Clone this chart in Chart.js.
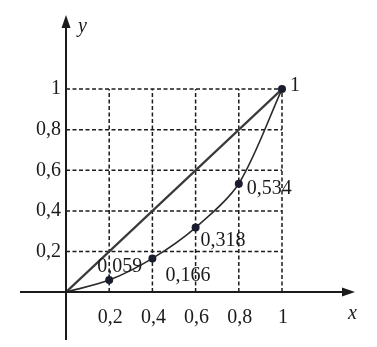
<!DOCTYPE html>
<html>
<head>
<meta charset="utf-8">
<script src="https://cdn.jsdelivr.net/npm/chart.js@4"></script>
<style>
  html, body { margin: 0; padding: 0; background: #fff; }
  canvas { display: block; }
</style>
</head>
<body>
<canvas id="lorenz" width="377" height="347"></canvas>
<script>
// Lorenz curve data
const xValues = [0, 0.2, 0.4, 0.6, 0.8, 1];
const yValues = [0, 0.059, 0.166, 0.318, 0.534, 1];
const pointLabels = ['', '0,059', '0,166', '0,318', '0,534', '1'];
const diagonalX = [0, 1];
const diagonalY = [0, 1];
const tickValues = [0.2, 0.4, 0.6, 0.8, 1];
const tickLabels = ['0,2', '0,4', '0,6', '0,8', '1'];

const FONT = '20px "Liberation Serif", "Times New Roman", serif';
const INK = '#1b1b1b';

// label offsets relative to each marked point (pixels)
const labelOffsets = [null, [-12, -13], [13, 17], [5, 13], [8, 5], [8, -3]];

const axesPlugin = {
  id: 'axesPlugin',
  beforeDatasetsDraw(chart) {
    const { ctx, scales: { x, y } } = chart;
    ctx.save();
    ctx.strokeStyle = INK;
    ctx.lineWidth = 1.5;
    ctx.setLineDash([4, 2.5]);
    tickValues.forEach(v => {
      // horizontal
      ctx.beginPath();
      ctx.moveTo(x.getPixelForValue(0), y.getPixelForValue(v));
      ctx.lineTo(x.getPixelForValue(1), y.getPixelForValue(v));
      ctx.stroke();
      // vertical
      ctx.beginPath();
      ctx.moveTo(x.getPixelForValue(v), y.getPixelForValue(0));
      ctx.lineTo(x.getPixelForValue(v), y.getPixelForValue(1));
      ctx.stroke();
    });
    ctx.restore();
  },
  afterDatasetsDraw(chart) {
    const { ctx, chartArea: area, scales: { x, y } } = chart;
    const x0 = x.getPixelForValue(0);
    const y0 = y.getPixelForValue(0);
    ctx.save();
    ctx.strokeStyle = INK;
    ctx.fillStyle = INK;
    ctx.lineWidth = 2;

    // axes
    ctx.beginPath();
    ctx.moveTo(area.left, y0);
    ctx.lineTo(area.right - 8, y0);
    ctx.moveTo(x0, area.bottom);
    ctx.lineTo(x0, area.top + 8);
    ctx.stroke();

    // arrow heads
    ctx.beginPath();
    ctx.moveTo(area.right, y0);
    ctx.lineTo(area.right - 13, y0 - 4.5);
    ctx.lineTo(area.right - 13, y0 + 4.5);
    ctx.closePath();
    ctx.fill();
    ctx.beginPath();
    ctx.moveTo(x0, area.top);
    ctx.lineTo(x0 - 4.5, area.top + 13);
    ctx.lineTo(x0 + 4.5, area.top + 13);
    ctx.closePath();
    ctx.fill();

    // tick labels
    ctx.font = FONT;
    ctx.textBaseline = 'middle';
    ctx.textAlign = 'right';
    tickValues.forEach((v, i) => {
      ctx.fillText(tickLabels[i], x0 - 5, y.getPixelForValue(v));
    });
    ctx.textAlign = 'center';
    tickValues.forEach((v, i) => {
      ctx.fillText(tickLabels[i], x.getPixelForValue(v) + 1, y0 + 26);
    });

    // axis titles
    ctx.font = 'italic ' + FONT;
    ctx.textAlign = 'left';
    ctx.fillText('y', x0 + 12, area.top + 12);
    ctx.fillText('x', area.right - 7, y0 + 22);

    // point value labels
    ctx.font = FONT;
    const meta = chart.getDatasetMeta(0);
    meta.data.forEach((pt, i) => {
      if (!pointLabels[i]) return;
      const off = labelOffsets[i];
      ctx.fillText(pointLabels[i], pt.x + off[0], pt.y + off[1]);
    });
    ctx.restore();
  }
};

new Chart(document.getElementById('lorenz'), {
  type: 'scatter',
  data: {
    datasets: [
      {
        data: xValues.map((v, i) => ({ x: v, y: yValues[i] })),
        showLine: true,
        borderColor: '#2b2b2b',
        borderWidth: 1.6,
        tension: 0.3,
        pointRadius: xValues.map(v => (v === 0 ? 0 : 3.2)),
        pointBackgroundColor: '#1a1d2e',
        pointBorderColor: '#1a1d2e',
        order: 1
      },
      {
        data: diagonalX.map((v, i) => ({ x: v, y: diagonalY[i] })),
        showLine: true,
        borderColor: '#3a3a3a',
        borderWidth: 2.2,
        pointRadius: 0,
        order: 2
      }
    ]
  },
  options: {
    responsive: false,
    animation: false,
    devicePixelRatio: 1,
    layout: { padding: { left: 20, right: 22, top: 15, bottom: 7 } },
    plugins: { legend: { display: false }, tooltip: { enabled: false } },
    scales: {
      x: { type: 'linear', display: false, min: -0.213, max: 1.338 },
      y: { type: 'linear', display: false, min: -0.236, max: 1.365 }
    }
  },
  plugins: [axesPlugin]
});
</script>
</body>
</html>
